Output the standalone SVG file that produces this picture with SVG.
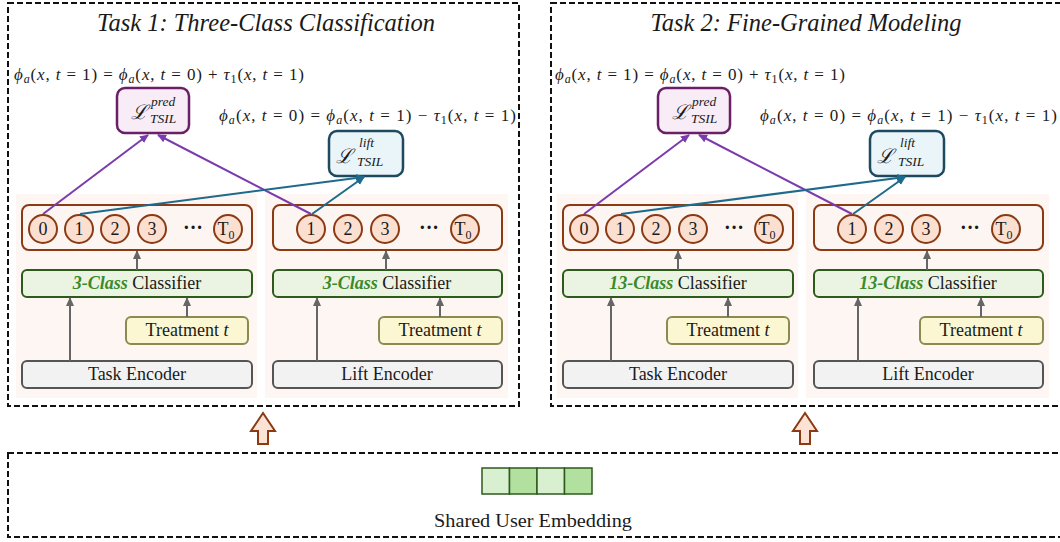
<svg xmlns="http://www.w3.org/2000/svg" width="1060" height="542" viewBox="0 0 1060 542">
  <style>
    text { font-family: "Liberation Serif", "DejaVu Serif", serif; fill: #1a1a1a; }
    .frame { fill: none; stroke: #111; stroke-width: 2; stroke-dasharray: 6 3; }
    .title { font-size: 24.5px; font-style: italic; text-anchor: middle; }
    .eq { font-size: 17px; }
    .i { font-style: italic; }
    .panel { fill: #fdf6f3; stroke: none; }
    .row { fill: #fdf5f1; stroke: #8b3a12; stroke-width: 2; }
    .cls { fill: #fbe0d2; stroke: #8b3a12; stroke-width: 2; }
    .num { font-size: 18px; text-anchor: middle; }
    .dots { font-size: 20px; font-weight: bold; text-anchor: middle; }
    .clf { fill: #ebf4e3; stroke: #2e5a1c; stroke-width: 2; }
    .green { fill: #3b8a2a; font-weight: bold; font-style: italic; }
    .treat { fill: #fbf7d3; stroke: #8c8a50; stroke-width: 2; }
    .enc { fill: #f2f2f2; stroke: #555; stroke-width: 2; }
    .lbl { font-size: 18px; text-anchor: middle; }
    .pred { fill: #f8ecf6; stroke: #6b1f66; stroke-width: 2.5; }
    .lift { fill: #eaf5fa; stroke: #1d4a5e; stroke-width: 2.5; }
    .cal { font-family: "DejaVu Serif", serif; font-size: 20px; font-style: italic; }
    .sup { font-size: 13.5px; font-style: italic; }
    .gray { stroke: #666; stroke-width: 2; fill: none; marker-end: url(#ah-gray); }
    .purple { stroke: #7b3aae; stroke-width: 2; fill: none; marker-end: url(#ah-purple); }
    .teal { stroke: #1e6a8a; stroke-width: 2; fill: none; marker-end: url(#ah-teal); }
    .block { fill: #fde3d6; stroke: #8b3a12; stroke-width: 2; }
    .emb { stroke: #2e5a1c; stroke-width: 1.5; }
  </style>
  <defs>
    <marker id="ah-gray" markerUnits="userSpaceOnUse" markerWidth="10" markerHeight="10" refX="8" refY="5" orient="auto">
      <path d="M0,1 L9,5 L0,9 Z" fill="#666"/>
    </marker>
    <marker id="ah-purple" markerUnits="userSpaceOnUse" markerWidth="10" markerHeight="10" refX="8" refY="5" orient="auto">
      <path d="M0,1 L9,5 L0,9 Z" fill="#7b3aae"/>
    </marker>
    <marker id="ah-teal" markerUnits="userSpaceOnUse" markerWidth="10" markerHeight="10" refX="8" refY="5" orient="auto">
      <path d="M0,1 L9,5 L0,9 Z" fill="#1e6a8a"/>
    </marker>
  </defs>

  <rect width="1060" height="542" fill="#fff"/>

  <!-- ===== Task 1 ===== -->
  <g id="task1">
    <rect class="frame" x="8" y="3" width="511" height="403"/>
    <text class="title" x="266" y="31" textLength="338" lengthAdjust="spacingAndGlyphs">Task 1: Three-Class Classification</text>
    <text class="eq" x="14" y="80" textLength="290" lengthAdjust="spacing"><tspan class="i">ϕ</tspan><tspan class="i" font-size="12" dy="3">a</tspan><tspan dy="-3">(</tspan><tspan class="i">x</tspan>, <tspan class="i">t</tspan> = 1) = <tspan class="i">ϕ</tspan><tspan class="i" font-size="12" dy="3">a</tspan><tspan dy="-3">(</tspan><tspan class="i">x</tspan>, <tspan class="i">t</tspan> = 0) + <tspan class="i">τ</tspan><tspan font-size="12" dy="3">1</tspan><tspan dy="-3">(</tspan><tspan class="i">x</tspan>, <tspan class="i">t</tspan> = 1)</text>
    <text class="eq" x="219" y="121" textLength="297" lengthAdjust="spacing"><tspan class="i">ϕ</tspan><tspan class="i" font-size="12" dy="3">a</tspan><tspan dy="-3">(</tspan><tspan class="i">x</tspan>, <tspan class="i">t</tspan> = 0) = <tspan class="i">ϕ</tspan><tspan class="i" font-size="12" dy="3">a</tspan><tspan dy="-3">(</tspan><tspan class="i">x</tspan>, <tspan class="i">t</tspan> = 1) − <tspan class="i">τ</tspan><tspan font-size="12" dy="3">1</tspan><tspan dy="-3">(</tspan><tspan class="i">x</tspan>, <tspan class="i">t</tspan> = 1)</text>

    <g id="t1-loss-pred">
      <rect class="pred" x="117" y="88" width="72" height="45" rx="8"/>
      <text class="cal" x="131" y="119">ℒ</text>
      <text class="sup" x="151" y="106">pred</text>
      <text class="sup" x="150" y="123">TSIL</text>
    </g>
    <g id="t1-loss-lift">
      <rect class="lift" x="329" y="131" width="74" height="45" rx="8"/>
      <text class="cal" x="336" y="163">ℒ</text>
      <text class="sup" x="359" y="147">lift</text>
      <text class="sup" x="357" y="166">TSIL</text>
    </g>

    <g id="t1-task-branch">
      <rect class="panel" x="16" y="194" width="241" height="204"/>
      <g id="t1-task-outputs">
        <rect class="row" x="22" y="205" width="230" height="45" rx="7"/>
        <circle class="cls" cx="43" cy="229" r="14"/><text class="num" x="43" y="235">0</text>
        <circle class="cls" cx="79" cy="229" r="14"/><text class="num" x="79" y="235">1</text>
        <circle class="cls" cx="115" cy="229" r="14"/><text class="num" x="115" y="235">2</text>
        <circle class="cls" cx="152" cy="229" r="14"/><text class="num" x="152" y="235">3</text>
        <text class="dots" x="193" y="234">···</text>
        <circle class="cls" cx="228" cy="229" r="14"/><text class="num" x="226" y="235">T<tspan font-size="12" dy="4">0</tspan></text>
      </g>
      <g id="t1-task-classifier">
        <rect class="clf" x="22" y="270" width="230" height="27" rx="5"/>
        <text class="lbl" x="137" y="289"><tspan class="green">3-Class</tspan> Classifier</text>
      </g>
      <g id="t1-task-treatment">
        <rect class="treat" x="126" y="317" width="122" height="27" rx="5"/>
        <text class="lbl" x="187" y="336">Treatment <tspan class="i">t</tspan></text>
      </g>
      <g id="t1-task-encoder">
        <rect class="enc" x="22" y="361" width="230" height="27" rx="5"/>
        <text class="lbl" x="137" y="380">Task Encoder</text>
      </g>
    </g>

    <g id="t1-lift-branch">
      <rect class="panel" x="265" y="194" width="243" height="204"/>
      <g id="t1-lift-outputs">
        <rect class="row" x="273" y="205" width="229" height="45" rx="7"/>
        <circle class="cls" cx="311" cy="229" r="14"/><text class="num" x="311" y="235">1</text>
        <circle class="cls" cx="348" cy="229" r="14"/><text class="num" x="348" y="235">2</text>
        <circle class="cls" cx="385" cy="229" r="14"/><text class="num" x="385" y="235">3</text>
        <text class="dots" x="429" y="234">···</text>
        <circle class="cls" cx="465" cy="229" r="14"/><text class="num" x="463" y="235">T<tspan font-size="12" dy="4">0</tspan></text>
      </g>
      <g id="t1-lift-classifier">
        <rect class="clf" x="273" y="270" width="229" height="27" rx="5"/>
        <text class="lbl" x="387" y="289"><tspan class="green">3-Class</tspan> Classifier</text>
      </g>
      <g id="t1-lift-treatment">
        <rect class="treat" x="379" y="317" width="123" height="27" rx="5"/>
        <text class="lbl" x="440" y="336">Treatment <tspan class="i">t</tspan></text>
      </g>
      <g id="t1-lift-encoder">
        <rect class="enc" x="273" y="361" width="229" height="27" rx="5"/>
        <text class="lbl" x="387" y="380">Lift Encoder</text>
      </g>
    </g>

    <g id="t1-connectors">
      <line class="gray" x1="70" y1="361" x2="70" y2="298"/>
      <line class="gray" x1="187" y1="317" x2="187" y2="298"/>
      <line class="gray" x1="137" y1="270" x2="137" y2="251"/>
      <line class="gray" x1="317" y1="361" x2="317" y2="298"/>
      <line class="gray" x1="440" y1="317" x2="440" y2="298"/>
      <line class="gray" x1="386" y1="270" x2="386" y2="251"/>
      <line class="purple" x1="43" y1="214" x2="148" y2="135"/>
      <line class="purple" x1="311" y1="214" x2="158" y2="135"/>
      <line class="teal" x1="80" y1="214" x2="364" y2="177"/>
      <line class="teal" x1="312" y1="214" x2="364" y2="177"/>
    </g>
  </g>

  <!-- ===== Task 2 ===== -->
  <g id="task2">
    <rect class="frame" x="551" y="3" width="520" height="403"/>
    <text class="title" x="806" y="31" textLength="311" lengthAdjust="spacingAndGlyphs">Task 2: Fine-Grained Modeling</text>
    <g transform="translate(541,0)">
      <text class="eq" x="14" y="80" textLength="290" lengthAdjust="spacing"><tspan class="i">ϕ</tspan><tspan class="i" font-size="12" dy="3">a</tspan><tspan dy="-3">(</tspan><tspan class="i">x</tspan>, <tspan class="i">t</tspan> = 1) = <tspan class="i">ϕ</tspan><tspan class="i" font-size="12" dy="3">a</tspan><tspan dy="-3">(</tspan><tspan class="i">x</tspan>, <tspan class="i">t</tspan> = 0) + <tspan class="i">τ</tspan><tspan font-size="12" dy="3">1</tspan><tspan dy="-3">(</tspan><tspan class="i">x</tspan>, <tspan class="i">t</tspan> = 1)</text>
      <text class="eq" x="219" y="121" textLength="297" lengthAdjust="spacing"><tspan class="i">ϕ</tspan><tspan class="i" font-size="12" dy="3">a</tspan><tspan dy="-3">(</tspan><tspan class="i">x</tspan>, <tspan class="i">t</tspan> = 0) = <tspan class="i">ϕ</tspan><tspan class="i" font-size="12" dy="3">a</tspan><tspan dy="-3">(</tspan><tspan class="i">x</tspan>, <tspan class="i">t</tspan> = 1) − <tspan class="i">τ</tspan><tspan font-size="12" dy="3">1</tspan><tspan dy="-3">(</tspan><tspan class="i">x</tspan>, <tspan class="i">t</tspan> = 1)</text>

      <g id="t2-loss-pred">
        <rect class="pred" x="117" y="88" width="72" height="45" rx="8"/>
        <text class="cal" x="131" y="119">ℒ</text>
        <text class="sup" x="151" y="106">pred</text>
        <text class="sup" x="150" y="123">TSIL</text>
      </g>
      <g id="t2-loss-lift">
        <rect class="lift" x="329" y="131" width="74" height="45" rx="8"/>
        <text class="cal" x="336" y="163">ℒ</text>
        <text class="sup" x="359" y="147">lift</text>
        <text class="sup" x="357" y="166">TSIL</text>
      </g>

      <g id="t2-task-branch">
        <rect class="panel" x="16" y="194" width="241" height="204"/>
        <g id="t2-task-outputs">
          <rect class="row" x="22" y="205" width="230" height="45" rx="7"/>
          <circle class="cls" cx="43" cy="229" r="14"/><text class="num" x="43" y="235">0</text>
          <circle class="cls" cx="79" cy="229" r="14"/><text class="num" x="79" y="235">1</text>
          <circle class="cls" cx="115" cy="229" r="14"/><text class="num" x="115" y="235">2</text>
          <circle class="cls" cx="152" cy="229" r="14"/><text class="num" x="152" y="235">3</text>
          <text class="dots" x="193" y="234">···</text>
          <circle class="cls" cx="228" cy="229" r="14"/><text class="num" x="226" y="235">T<tspan font-size="12" dy="4">0</tspan></text>
        </g>
        <g id="t2-task-classifier">
          <rect class="clf" x="22" y="270" width="230" height="27" rx="5"/>
          <text class="lbl" x="137" y="289"><tspan class="green">13-Class</tspan> Classifier</text>
        </g>
        <g id="t2-task-treatment">
          <rect class="treat" x="126" y="317" width="122" height="27" rx="5"/>
          <text class="lbl" x="187" y="336">Treatment <tspan class="i">t</tspan></text>
        </g>
        <g id="t2-task-encoder">
          <rect class="enc" x="22" y="361" width="230" height="27" rx="5"/>
          <text class="lbl" x="137" y="380">Task Encoder</text>
        </g>
      </g>

      <g id="t2-lift-branch">
        <rect class="panel" x="265" y="194" width="243" height="204"/>
        <g id="t2-lift-outputs">
          <rect class="row" x="273" y="205" width="229" height="45" rx="7"/>
          <circle class="cls" cx="311" cy="229" r="14"/><text class="num" x="311" y="235">1</text>
          <circle class="cls" cx="348" cy="229" r="14"/><text class="num" x="348" y="235">2</text>
          <circle class="cls" cx="385" cy="229" r="14"/><text class="num" x="385" y="235">3</text>
          <text class="dots" x="429" y="234">···</text>
          <circle class="cls" cx="465" cy="229" r="14"/><text class="num" x="463" y="235">T<tspan font-size="12" dy="4">0</tspan></text>
        </g>
        <g id="t2-lift-classifier">
          <rect class="clf" x="273" y="270" width="229" height="27" rx="5"/>
          <text class="lbl" x="387" y="289"><tspan class="green">13-Class</tspan> Classifier</text>
        </g>
        <g id="t2-lift-treatment">
          <rect class="treat" x="379" y="317" width="123" height="27" rx="5"/>
          <text class="lbl" x="440" y="336">Treatment <tspan class="i">t</tspan></text>
        </g>
        <g id="t2-lift-encoder">
          <rect class="enc" x="273" y="361" width="229" height="27" rx="5"/>
          <text class="lbl" x="387" y="380">Lift Encoder</text>
        </g>
      </g>

      <g id="t2-connectors">
        <line class="gray" x1="70" y1="361" x2="70" y2="298"/>
        <line class="gray" x1="187" y1="317" x2="187" y2="298"/>
        <line class="gray" x1="137" y1="270" x2="137" y2="251"/>
        <line class="gray" x1="317" y1="361" x2="317" y2="298"/>
        <line class="gray" x1="440" y1="317" x2="440" y2="298"/>
        <line class="gray" x1="386" y1="270" x2="386" y2="251"/>
        <line class="purple" x1="43" y1="214" x2="148" y2="135"/>
        <line class="purple" x1="311" y1="214" x2="158" y2="135"/>
        <line class="teal" x1="80" y1="214" x2="364" y2="177"/>
        <line class="teal" x1="312" y1="214" x2="364" y2="177"/>
      </g>
    </g>
  </g>

  <!-- block arrows from the shared embedding up to each task -->
  <g id="flow-arrows">
    <path class="block" d="M263,413 L275,431 L268,431 L268,444 L258,444 L258,431 L251,431 Z"/>
    <path class="block" d="M805,413 L817,431 L810,431 L810,444 L800,444 L800,431 L793,431 Z"/>
  </g>

  <!-- ===== Shared user embedding ===== -->
  <g id="shared-embedding">
    <rect class="frame" x="8" y="453" width="1062" height="84"/>
    <rect class="emb" x="482" y="468" width="27.5" height="26" fill="#d8f0cf"/>
    <rect class="emb" x="509.5" y="468" width="27.5" height="26" fill="#b2e09e"/>
    <rect class="emb" x="537" y="468" width="27.5" height="26" fill="#d8f0cf"/>
    <rect class="emb" x="564.5" y="468" width="27.5" height="26" fill="#b2e09e"/>
    <text class="lbl" x="533" y="527" textLength="198" lengthAdjust="spacingAndGlyphs">Shared User Embedding</text>
  </g>
</svg>
